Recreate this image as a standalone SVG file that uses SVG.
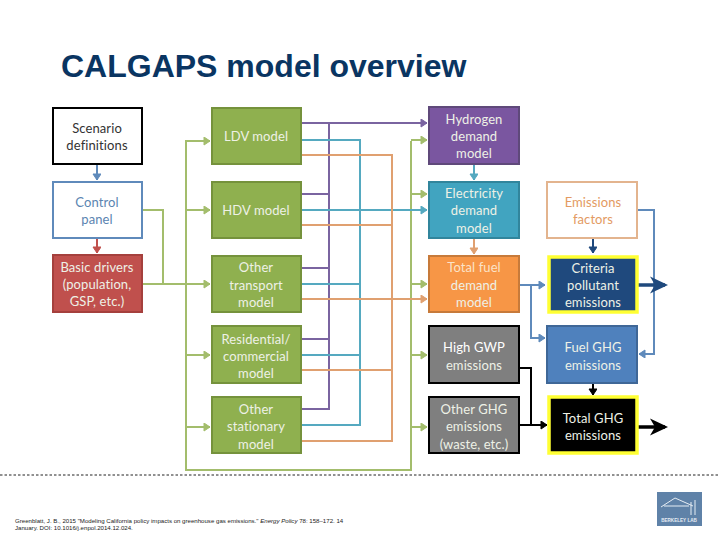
<svg xmlns="http://www.w3.org/2000/svg" width="720" height="540" viewBox="0 0 720 540">
<style>
text{font-family:"Lato","Liberation Sans",sans-serif;font-size:13px;text-anchor:middle;letter-spacing:.1px}
.w{fill:#eef1e6}
.b{stroke-width:2}
.l{fill:none;stroke-width:2}
.g{stroke:#a3bd6c}.p{stroke:#7a64a0}.t{stroke:#55a9c0}.o{stroke:#e0a070}.n{stroke:#5f8abb}.k{stroke:#000}
</style>
<defs>
<marker id="ag" markerWidth="9" markerHeight="10" refX="7" refY="4" orient="auto" markerUnits="userSpaceOnUse"><path d="M1 0L7 4L1 8Z" fill="#a3bd6c" stroke="#a3bd6c"/></marker>
<marker id="ap" markerWidth="9" markerHeight="10" refX="7" refY="4" orient="auto" markerUnits="userSpaceOnUse"><path d="M1 0L7 4L1 8Z" fill="#7a64a0" stroke="#7a64a0"/></marker>
<marker id="at" markerWidth="9" markerHeight="10" refX="7" refY="4" orient="auto" markerUnits="userSpaceOnUse"><path d="M1 0L7 4L1 8Z" fill="#55a9c0" stroke="#55a9c0"/></marker>
<marker id="ao" markerWidth="9" markerHeight="10" refX="7" refY="4" orient="auto" markerUnits="userSpaceOnUse"><path d="M1 0L7 4L1 8Z" fill="#e0a070" stroke="#e0a070"/></marker>
<marker id="an" markerWidth="9" markerHeight="10" refX="7" refY="4" orient="auto" markerUnits="userSpaceOnUse"><path d="M1 0L7 4L1 8Z" fill="#5f8abb" stroke="#5f8abb"/></marker>
<marker id="ar" markerWidth="9" markerHeight="10" refX="7" refY="4" orient="auto" markerUnits="userSpaceOnUse"><path d="M1 0L7 4L1 8Z" fill="#c0504d" stroke="#c0504d"/></marker>
<marker id="ak" markerWidth="9" markerHeight="10" refX="7" refY="4" orient="auto" markerUnits="userSpaceOnUse"><path d="M1 0L7 4L1 8Z" fill="#000" stroke="#000"/></marker>
<marker id="ad" markerWidth="9" markerHeight="10" refX="7" refY="4" orient="auto" markerUnits="userSpaceOnUse"><path d="M1 0L7 4L1 8Z" fill="#1f497d" stroke="#1f497d"/></marker>
<marker id="bd" markerWidth="20" markerHeight="19" refX="16" refY="9.5" orient="auto" markerUnits="userSpaceOnUse"><path d="M1 1L19 9.5L1 18L6 9.5Z" fill="#1f497d"/></marker>
<marker id="bk" markerWidth="20" markerHeight="19" refX="16" refY="9.5" orient="auto" markerUnits="userSpaceOnUse"><path d="M1 1L19 9.5L1 18L6 9.5Z" fill="#000"/></marker>
</defs>
<rect width="720" height="540" fill="#fff"/>
<text x="61" y="76.5" style="font-family:'Liberation Sans',sans-serif;font-size:32px;font-weight:bold;text-anchor:start;letter-spacing:0" fill="#0a3562">CALGAPS model overview</text>
<g id="connectors">
<path class="l g" d="M142 210H163V284"/>
<path class="l g" d="M142 284H210" marker-end="url(#ag)"/>
<path class="l g" d="M411 141V470H186V141H210" marker-end="url(#ag)"/>
<path class="l g" d="M186 210H210" marker-end="url(#ag)"/>
<path class="l g" d="M186 355H210" marker-end="url(#ag)"/>
<path class="l g" d="M186 427H210" marker-end="url(#ag)"/>
<path class="l g" d="M411 140H427" marker-end="url(#ag)"/>
<path class="l g" d="M411 194H427" marker-end="url(#ag)"/>
<path class="l g" d="M411 284H427" marker-end="url(#ag)"/>
<path class="l g" d="M411 355H427" marker-end="url(#ag)"/>
<path class="l g" d="M411 427H427" marker-end="url(#ag)"/>
<path class="l p" d="M301 123H427" marker-end="url(#ap)"/>
<path class="l p" d="M329 123V409H301M301 194H329M301 268H329M301 339H329"/>
<path class="l t" d="M301 140H360V425H301M301 284H360M301 355H360"/>
<path class="l t" d="M301 210H427" marker-end="url(#at)"/>
<path class="l o" d="M301 155H392V441H301M301 225H392M301 370H392"/>
<path class="l o" d="M301 299H427" marker-end="url(#ao)"/>
<path class="l n" d="M97 164V180" marker-end="url(#an)"/>
<path class="l" stroke="#c0504d" d="M97 238V253" marker-end="url(#ar)"/>
<path class="l t" d="M474 164V180" marker-end="url(#at)"/>
<path class="l o" d="M474 238V254" marker-end="url(#ao)"/>
<path class="l" stroke="#1f497d" d="M593 238V253" marker-end="url(#ad)"/>
<path class="l n" d="M519 285H545" marker-end="url(#an)"/>
<path class="l n" d="M531 285V338H545" marker-end="url(#an)"/>
<path class="l n" d="M637 210H654V354H639" marker-end="url(#an)"/>
<path fill="none" stroke="#1f497d" stroke-width="3.5" d="M638 285H665" marker-end="url(#bd)"/>
<path class="l k" d="M593 383V395" marker-end="url(#ak)"/>
<path class="l k" d="M519 368H531V425"/>
<path class="l k" d="M519 425H547" marker-end="url(#ak)"/>
<path fill="none" stroke="#000" stroke-width="3.5" d="M638 427H665" marker-end="url(#bk)"/>
</g>
<g id="scenario"><rect class="b" x="53" y="108" width="89" height="56" fill="#fff" stroke="#000"/><text x="97" y="133" fill="#333">Scenario</text><text x="97" y="150" fill="#333">definitions</text></g>
<g id="control"><rect class="b" x="53" y="182" width="89" height="56" fill="#fff" stroke="#5f8abb"/><text x="97" y="207" fill="#5b84b1">Control</text><text x="97" y="224" fill="#5b84b1">panel</text></g>
<g id="drivers"><rect class="b" x="53" y="255" width="89" height="57" fill="#c0504d" stroke="#a5403d"/><text x="97" y="272" class="w">Basic drivers</text><text x="97" y="289" class="w">(population,</text><text x="97" y="306" class="w">GSP, etc.)</text></g>
<g id="ldv"><rect class="b" x="212" y="108" width="89" height="56" fill="#8fb04f" stroke="#75923c"/><text x="256" y="141" class="w">LDV model</text></g>
<g id="hdv"><rect class="b" x="212" y="182" width="89" height="56" fill="#8fb04f" stroke="#75923c"/><text x="256" y="215" class="w">HDV model</text></g>
<g id="transport"><rect class="b" x="212" y="256" width="89" height="56" fill="#8fb04f" stroke="#75923c"/><text x="256" y="272" class="w">Other</text><text x="256" y="290" class="w">transport</text><text x="256" y="307" class="w">model</text></g>
<g id="residential"><rect class="b" x="212" y="326" width="89" height="57" fill="#8fb04f" stroke="#75923c"/><text x="256" y="344" class="w">Residential/</text><text x="256" y="361" class="w">commercial</text><text x="256" y="378" class="w">model</text></g>
<g id="stationary"><rect class="b" x="212" y="397" width="89" height="56" fill="#8fb04f" stroke="#75923c"/><text x="256" y="414" class="w">Other</text><text x="256" y="431" class="w">stationary</text><text x="256" y="449" class="w">model</text></g>
<g id="hydrogen"><rect class="b" x="429" y="107" width="90" height="57" fill="#7a56a0" stroke="#5f497a"/><text x="474" y="124" class="w">Hydrogen</text><text x="474" y="141" class="w">demand</text><text x="474" y="158" class="w">model</text></g>
<g id="electricity"><rect class="b" x="429" y="182" width="90" height="56" fill="#41a4c0" stroke="#31859c"/><text x="474" y="198" class="w">Electricity</text><text x="474" y="215" class="w">demand</text><text x="474" y="233" class="w">model</text></g>
<g id="fuel"><rect class="b" x="429" y="256" width="90" height="56" fill="#f79646" stroke="#c77a3a"/><text x="474" y="272" fill="#fbe3c8">Total fuel</text><text x="474" y="290" class="w">demand</text><text x="474" y="307" class="w">model</text></g>
<g id="gwp"><rect class="b" x="429" y="326" width="90" height="57" fill="#7f7f7f" stroke="#000"/><text x="474" y="352" fill="#fff">High GWP</text><text x="474" y="370" class="w">emissions</text></g>
<g id="otherghg"><rect class="b" x="429" y="397" width="90" height="56" fill="#7f7f7f" stroke="#000"/><text x="474" y="414" class="w">Other GHG</text><text x="474" y="431" class="w">emissions</text><text x="474" y="449" class="w">(waste, etc.)</text></g>
<g id="factors"><rect class="b" x="547" y="182" width="90" height="56" fill="#fff" stroke="#e3b48e"/><text x="593" y="207" fill="#e39a62">Emissions</text><text x="593" y="224" fill="#e39a62">factors</text></g>
<g id="criteria"><rect x="549" y="257" width="88" height="55" fill="#1f497d" stroke="#ffff33" stroke-width="3.5"/><text x="593" y="273" class="w">Criteria</text><text x="593" y="290" class="w">pollutant</text><text x="593" y="307" class="w">emissions</text></g>
<g id="fuelghg"><rect class="b" x="547" y="326" width="90" height="57" fill="#4f81bd" stroke="#3f6797"/><text x="593" y="352" class="w">Fuel GHG</text><text x="593" y="370" class="w">emissions</text></g>
<g id="totalghg"><rect x="549" y="397" width="88" height="56" fill="#000" stroke="#ffff33" stroke-width="3.5"/><text x="593" y="423" class="w">Total GHG</text><text x="593" y="440" class="w">emissions</text></g>
<line x1="0" y1="475" x2="720" y2="475" stroke="#222" stroke-width="1" stroke-dasharray="2.5 2"/>
<text x="15" y="523" style="font-family:'Liberation Sans',sans-serif;font-size:6.1px;text-anchor:start;letter-spacing:0" fill="#222">Greenblatt, J. B., 2015 "Modeling California policy impacts on greenhouse gas emissions." <tspan font-style="italic">Energy Policy</tspan> 78: 158–172. 14</text>
<text x="15" y="530" style="font-family:'Liberation Sans',sans-serif;font-size:6.1px;text-anchor:start;letter-spacing:0" fill="#222">January. DOI: 10.1016/j.enpol.2014.12.024.</text>
<g id="logo"><rect x="657" y="492" width="45" height="34" fill="#5f82a8"/><path d="M661 507L675 498L693 506M664 506H689M691 502V515M695 500V515" fill="none" stroke="#e6edf4" stroke-width="1"/><text x="679" y="522" style="font-family:'Liberation Sans',sans-serif;font-size:4.6px;font-weight:bold;letter-spacing:0" fill="#e6edf4">BERKELEY LAB</text></g>
</svg>
